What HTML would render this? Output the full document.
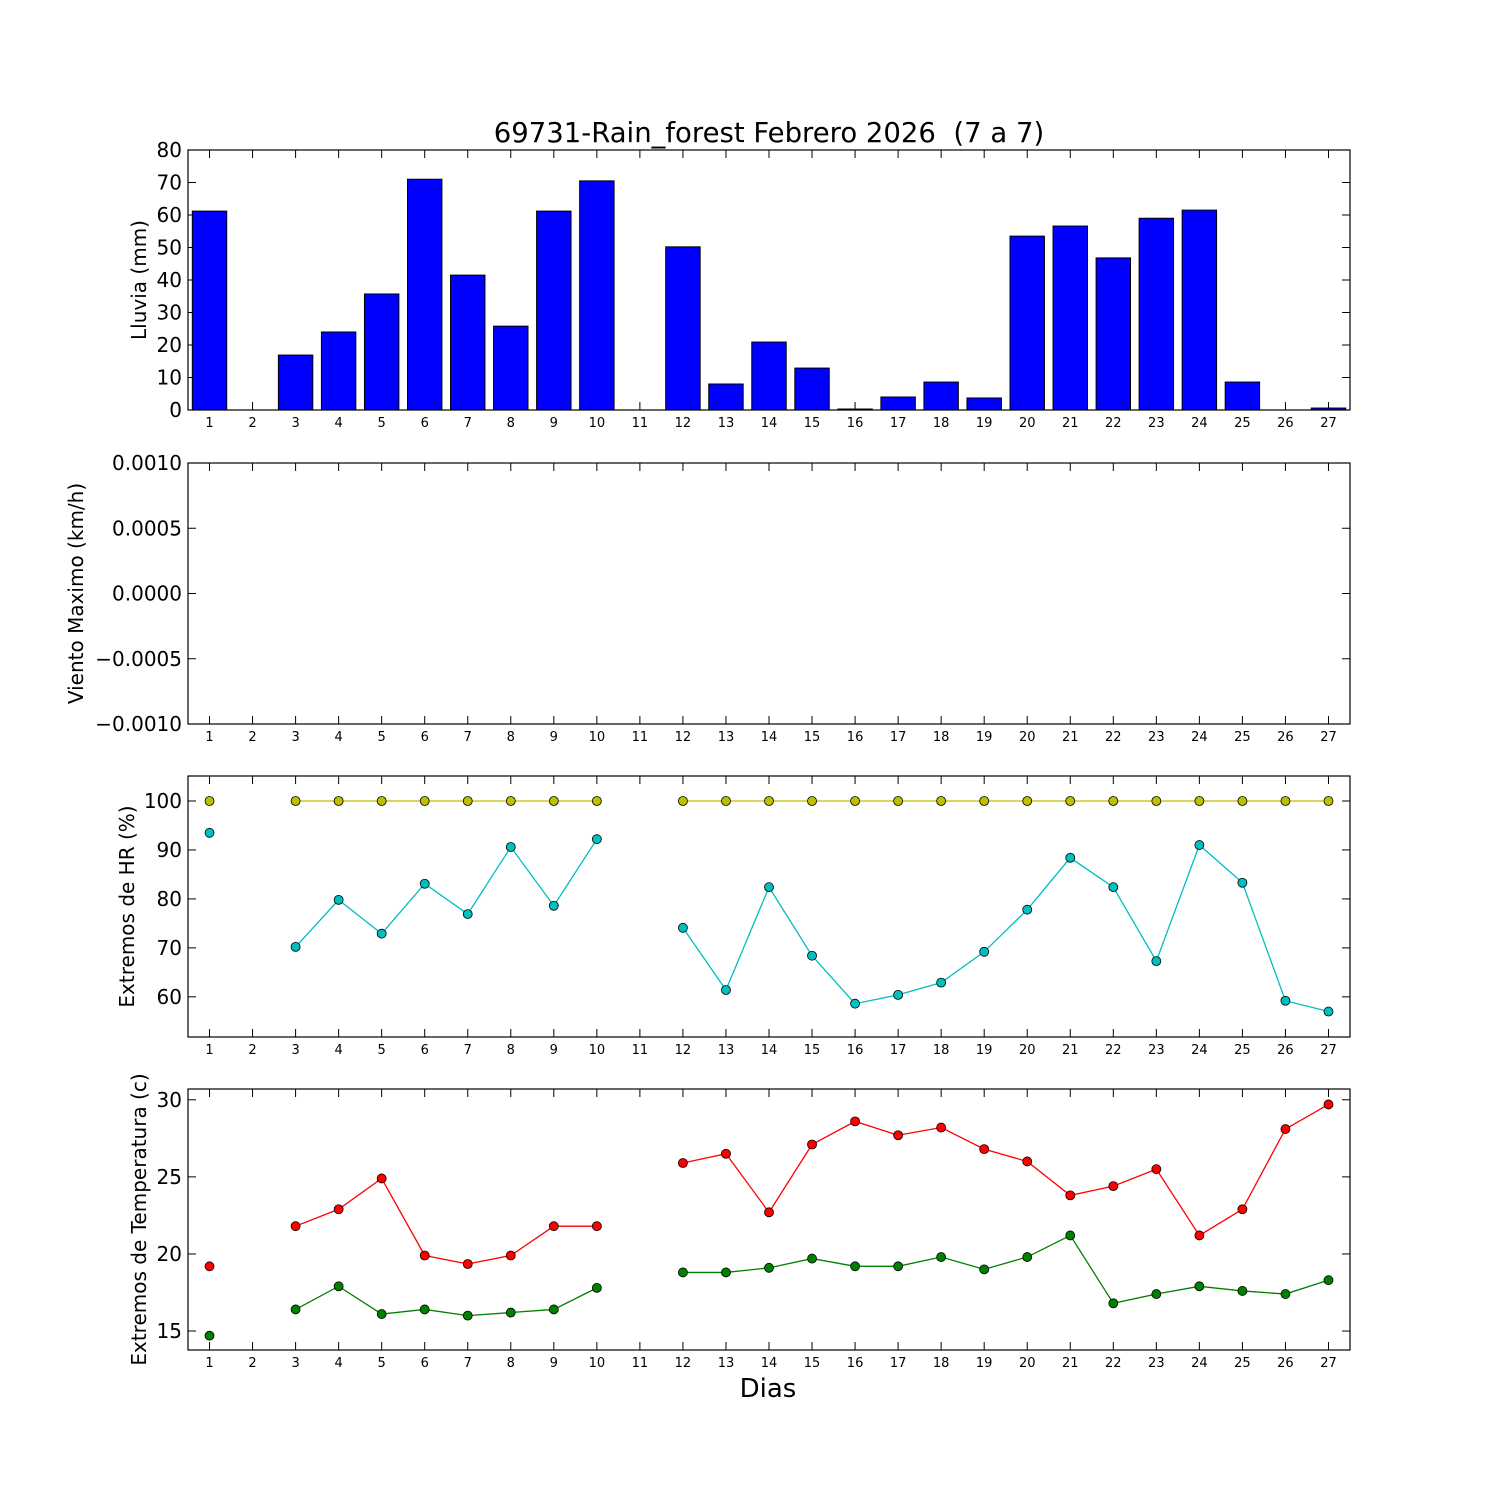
<!DOCTYPE html>
<html><head><meta charset="utf-8"><style>
html,body{margin:0;padding:0;background:#fff;}
svg{display:block;font-family:"DejaVu Sans","Liberation Sans",sans-serif;}
</style></head><body>
<svg id="chart" width="1500" height="1500" viewBox="0 0 1500 1500" xmlns="http://www.w3.org/2000/svg">
<rect width="1500" height="1500" fill="#fff"/>
<text x="769" y="142" font-size="27.5" text-anchor="middle">69731-Rain_forest Febrero 2026 &#160;(7 a 7)</text>
<text x="768" y="1397" font-size="26" text-anchor="middle">Dias</text>
</svg>
<script>
const days=[1,2,3,4,5,6,7,8,9,10,11,12,13,14,15,16,17,18,19,20,21,22,23,24,25,26,27];
const rain=[61.2,0,16.9,24,35.7,71,41.5,25.8,61.2,70.5,0,50.2,8,20.9,12.9,0.3,4,8.6,3.7,53.5,56.6,46.8,59,61.5,8.6,0,0.6];
const hrMax=[100,null,100,100,100,100,100,100,100,100,null,100,100,100,100,100,100,100,100,100,100,100,100,100,100,100,100];
const hrMin=[93.5,null,70.2,79.8,72.9,83.1,76.9,90.6,78.6,92.2,null,74.1,61.4,82.4,68.4,58.6,60.4,62.9,69.2,77.8,88.4,82.4,67.3,91,83.3,59.2,57];
const tMax=[19.2,null,21.8,22.9,24.9,19.9,19.35,19.9,21.8,21.8,null,25.9,26.5,22.7,27.1,28.6,27.7,28.2,26.8,26,23.8,24.4,25.5,21.2,22.9,28.1,29.7];
const tMin=[14.7,null,16.4,17.9,16.1,16.4,16,16.2,16.4,17.8,null,18.8,18.8,19.1,19.7,19.2,19.2,19.8,19,19.8,21.2,16.8,17.4,17.9,17.6,17.4,18.3];
const rainTicks=[0,10,20,30,40,50,60,70,80];
const windTicks=[-0.001,-0.0005,0,0.0005,0.001];
const windLabels=["\u22120.0010","\u22120.0005","0.0000","0.0005","0.0010"];
const hrTicks=[60,70,80,90,100];
const tTicks=[15,20,25,30];

const NS="http://www.w3.org/2000/svg";
const svg=document.getElementById('chart');
const L=188,R=1350;
function xs(d){return L+(d-0.5)/27*(R-L);}
function mk(tag,attrs,parent){const e=document.createElementNS(NS,tag);for(const k in attrs)e.setAttribute(k,attrs[k]);(parent||svg).appendChild(e);return e;}
function panel(name,top,bot,ymin,ymax,ticks,labels,ylabel,lx){
  const g=mk('g',{});
  
  
  const ys=v=>bot-(v-ymin)/(ymax-ymin)*(bot-top);
  ticks.forEach((t,i)=>{
    const y=ys(t);
    mk('line',{x1:L,x2:L+8,y1:y,y2:y,stroke:'#000'},g);
    mk('line',{x1:R-8,x2:R,y1:y,y2:y,stroke:'#000'},g);
    const tx=mk('text',{x:L-6,y:y+7,'font-size':20,'text-anchor':'end'},g);
    
    
    tx.textContent=labels?labels[i]:String(t);
  });
  days.forEach(d=>{
    const x=xs(d);
    mk('line',{x1:x,x2:x,y1:bot,y2:bot-8,stroke:'#000'},g);
    mk('line',{x1:x,x2:x,y1:top,y2:top+8,stroke:'#000'},g);
    const tx=mk('text',{x:x,y:bot+17,'font-size':13,'text-anchor':'middle'},g);
    
    
    tx.textContent=String(d);
  });
  const yl=mk('text',{x:0,y:0,'font-size':20,'text-anchor':'middle',transform:`translate(${lx},${(top+bot)/2}) rotate(-90)`},g);
  
  
  yl.textContent=ylabel;
  return {g,ys,top,bot};
}
function frame(p){mk('rect',{x:L,y:p.top,width:R-L,height:p.bot-p.top,fill:'none',stroke:'#000','stroke-width':1.2},p.g);}
function series(p,vals,color,name){
  let seg=[];
  const segs=[];
  vals.forEach((v,i)=>{if(v==null){if(seg.length)segs.push(seg);seg=[];}else seg.push([xs(days[i]),p.ys(v)]);});
  if(seg.length)segs.push(seg);
  segs.forEach(s=>{if(s.length>1){const pl=mk('polyline',{points:s.map(q=>q.join(',')).join(' '),fill:'none',stroke:color,'stroke-width':1.3},p.g);
    
    }});
  vals.forEach((v,i)=>{if(v==null)return;
    const c=mk('circle',{cx:xs(days[i]),cy:p.ys(v),r:4.5,fill:color,stroke:'#000','stroke-width':0.8},p.g);
    
    });
}
const p1=panel('rain',150,410,0,80,rainTicks,null,'Lluvia (mm)',146);
rain.forEach((v,i)=>{
  const x0=xs(days[i]-0.4),x1=xs(days[i]+0.4);
  const b=mk('rect',{x:x0,y:p1.ys(v),width:x1-x0,height:p1.bot-p1.ys(v),fill:'#0000ff',stroke:'#000','stroke-width':1},p1.g);
  
  
});
frame(p1);
const p2=panel('wind',463,724,-0.001,0.001,windTicks,windLabels,'Viento Maximo (km/h)',83);
frame(p2);
const p3=panel('humidity',776,1037,51.8,105.1,hrTicks,null,'Extremos de HR (%)',134);
series(p3,hrMax,'#bfbf00','hr-max');
series(p3,hrMin,'#00bfbf','hr-min');
frame(p3);
const p4=panel('temperature',1089,1350,13.77,30.7,tTicks,null,'Extremos de Temperatura (c)',146);
series(p4,tMax,'#ff0000','temp-max');
series(p4,tMin,'#008000','temp-min');
frame(p4);
</script>
</body></html>
